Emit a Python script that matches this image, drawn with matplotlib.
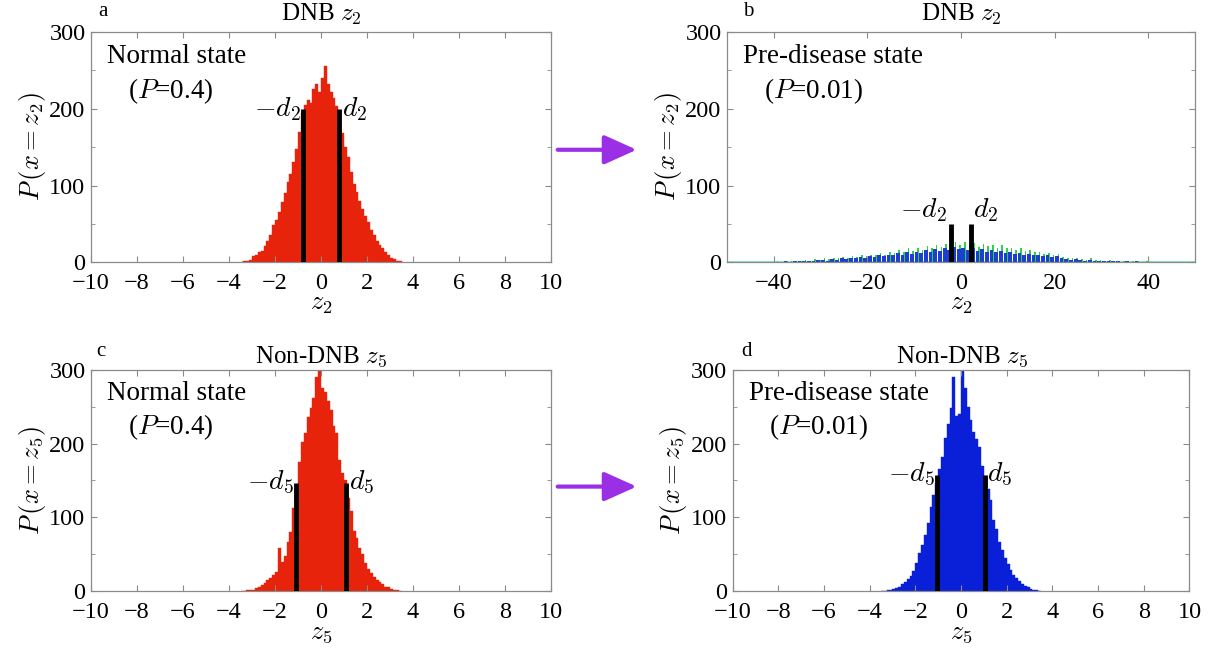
import numpy as np
import matplotlib
matplotlib.use("Agg")
import matplotlib.pyplot as plt
from matplotlib.ticker import MultipleLocator

plt.rcParams['font.family'] = ['Liberation Serif', 'DejaVu Serif']
plt.rcParams['mathtext.fontset'] = 'cm'

# histogram bins for the narrow panels (a, c, d)
bin_start = -3.5
bin_width = 0.125

# panel a: DNB z2, normal state
hist_a = [0, 1, 2, 3, 8, 10, 14, 15, 21, 28, 36, 48, 55, 66, 79, 90, 104, 115, 130, 147,
          170, 195, 205, 212, 208, 226, 232, 222, 240, 256, 232, 222, 214, 204, 190, 168,
          150, 137, 118, 102, 92, 80, 70, 60, 52, 42, 36, 28, 22, 19, 13, 10, 6, 4, 2, 1]
d_a = 0.8
d_a_height = 200

# panel c: non-DNB z5, normal state
hist_c = [0, 0, 1, 1, 2, 4, 5, 8, 11, 15, 18, 22, 26, 58, 40, 48, 66, 80, 112, 140,
          175, 202, 215, 236, 248, 262, 290, 300, 276, 270, 258, 246, 224, 215, 178, 160,
          150, 126, 108, 82, 72, 58, 50, 38, 30, 24, 19, 15, 12, 9, 6, 5, 3, 2, 1, 0]
d_c = 1.1
d_c_height = 147

# panel d: non-DNB z5, pre-disease state
hist_d = [0, 0, 1, 2, 3, 4, 6, 9, 12, 16, 21, 27, 38, 52, 63, 76, 92, 114, 130, 146,
          166, 182, 208, 226, 248, 290, 238, 240, 300, 276, 250, 232, 216, 206, 196, 170,
          156, 138, 124, 96, 84, 66, 56, 45, 36, 28, 22, 17, 13, 10, 7, 5, 3, 2, 1, 0]
d_d = 1.05
d_d_height = 158

# panel b: DNB z2, pre-disease state (wide bins)
wide_start = -40
wide_width = 1.0
hist_b_green = [1, 0, 2, 1, 2, 2, 3, 2, 4, 3, 5, 4, 6, 5, 7, 6, 8, 7, 9, 8,
                10, 9, 12, 10, 13, 12, 16, 13, 18, 15, 19, 16, 21, 18, 22, 20, 24, 21, 27, 23,
                26, 22, 25, 20, 24, 21, 23, 19, 22, 18, 19, 16, 18, 15, 16, 13, 14, 11, 12, 10,
                11, 7, 6, 5, 6, 4, 3, 5, 3, 3, 2, 3, 2, 2, 1, 2, 1, 1, 0, 1]
hist_b_blue = [0, 0, 1, 0, 1, 1, 2, 1, 2, 3, 3, 2, 4, 3, 5, 4, 6, 5, 7, 6,
               8, 7, 9, 8, 10, 9, 12, 10, 13, 11, 14, 12, 16, 13, 17, 15, 18, 16, 20, 17,
               19, 16, 18, 15, 17, 14, 16, 13, 15, 12, 13, 11, 12, 10, 11, 9, 10, 8, 9, 7,
               8, 5, 4, 3, 4, 3, 2, 3, 2, 2, 1, 2, 1, 1, 0, 1, 0, 1, 0, 0]
d_b = 2.1
d_b_height = 50

red = '#e8230c'
blue = '#0a1fd8'
green = '#2fd14a'
purple = '#9b2fe6'
grey = '#8a8a8a'

fig = plt.figure(figsize=(12.25, 6.54), dpi=100)

ax_a = fig.add_axes([0.0743, 0.599, 0.3755, 0.352])
ax_b = fig.add_axes([0.5935, 0.599, 0.382, 0.352])
ax_c = fig.add_axes([0.0743, 0.0963, 0.3755, 0.338])
ax_d = fig.add_axes([0.598, 0.0963, 0.373, 0.338])


def style_axes(ax, xlim, xstep):
    ax.set_xlim(*xlim)
    ax.set_ylim(0, 300)
    ax.xaxis.set_major_locator(MultipleLocator(xstep))
    ax.yaxis.set_major_locator(MultipleLocator(100))
    ax.yaxis.set_minor_locator(MultipleLocator(50))
    ax.tick_params(which='both', direction='in', top=True, right=True,
                   color=grey, labelsize=17.5)
    ax.tick_params(axis='x', pad=8)
    ax.tick_params(axis='y', pad=4)
    ax.tick_params(which='major', length=4)
    ax.tick_params(which='minor', length=3)
    for s in ax.spines.values():
        s.set_color(grey)
        s.set_linewidth(0.9)


def narrow_hist(ax, heights, color, d, dh, idx):
    centers = bin_start + bin_width * (np.arange(len(heights)) + 0.5)
    ax.bar(centers, heights, width=bin_width, color=color, edgecolor=color, linewidth=0.3)
    ax.vlines([-d, d], 0, dh, color='k', lw=3.5, zorder=3)
    ax.text(-d - 0.1, dh, r'$-d_%s$' % idx, ha='right', va='center', fontsize=20)
    ax.text(d + 0.1, dh, r'$d_%s$' % idx, ha='left', va='center', fontsize=20)
    style_axes(ax, (-10, 10), 2)
    ax.set_xlabel(r'$z_%s$' % idx, fontsize=19, labelpad=0)
    ax.set_ylabel(r'$P\,(x=z_%s)$' % idx, fontsize=19, labelpad=1)


narrow_hist(ax_a, hist_a, red, d_a, d_a_height, 2)
narrow_hist(ax_c, hist_c, red, d_c, d_c_height, 5)
narrow_hist(ax_d, hist_d, blue, d_d, d_d_height, 5)

# panel b
wc = wide_start + wide_width * (np.arange(len(hist_b_green)) + 0.5)
ax_b.axhline(0.6, color='#8fe8c8', lw=1.5, zorder=1)
ax_b.bar(wc + 0.3, hist_b_green, width=0.35, color=green, edgecolor='none', zorder=2)
ax_b.bar(wc, hist_b_blue, width=0.8, color='#1d3fd0', edgecolor='none', zorder=2)
ax_b.vlines([-d_b, d_b], 0, d_b_height, color='k', lw=3.5, zorder=3)
ax_b.text(-d_b - 1.0, d_b_height, r'$-d_2$', ha='right', va='bottom', fontsize=20)
ax_b.text(d_b + 0.5, d_b_height, r'$d_2$', ha='left', va='bottom', fontsize=20)
style_axes(ax_b, (-50, 50), 20)
ax_b.set_xlabel(r'$z_2$', fontsize=19, labelpad=0)
ax_b.set_ylabel(r'$P\,(x=z_2)$', fontsize=19, labelpad=1)

# state annotations
for ax, state, p in [(ax_a, 'Normal state', '0.4'), (ax_c, 'Normal state', '0.4'),
                     (ax_b, 'Pre-disease state', '0.01'), (ax_d, 'Pre-disease state', '0.01')]:
    ax.text(0.035, 0.95, state, transform=ax.transAxes, fontsize=19.5, va='top')
    ax.text(0.08, 0.81, r'($P$=' + p + ')', transform=ax.transAxes, fontsize=19.5, va='top')

# titles and panel letters
fig.text(0.262, 0.978, r'DNB $z_2$', ha='center', va='center', fontsize=18)
fig.text(0.785, 0.978, r'DNB $z_2$', ha='center', va='center', fontsize=18)
fig.text(0.262, 0.455, r'Non-DNB $z_5$', ha='center', va='center', fontsize=18)
fig.text(0.785, 0.455, r'Non-DNB $z_5$', ha='center', va='center', fontsize=18)
fig.text(0.084, 0.982, 'a', ha='center', va='center', fontsize=15)
fig.text(0.611, 0.982, 'b', ha='center', va='center', fontsize=15)
fig.text(0.082, 0.462, 'c', ha='center', va='center', fontsize=15)
fig.text(0.609, 0.462, 'd', ha='center', va='center', fontsize=15)

# arrows between panels
for yf in [0.771, 0.256]:
    fig.patches.append(matplotlib.patches.FancyArrowPatch(
        (0.453, yf), (0.522, yf), transform=fig.transFigure, color=purple,
        arrowstyle='-|>,head_length=1.0,head_width=0.45', lw=3, mutation_scale=20))

fig.savefig('out.png', dpi=100)
